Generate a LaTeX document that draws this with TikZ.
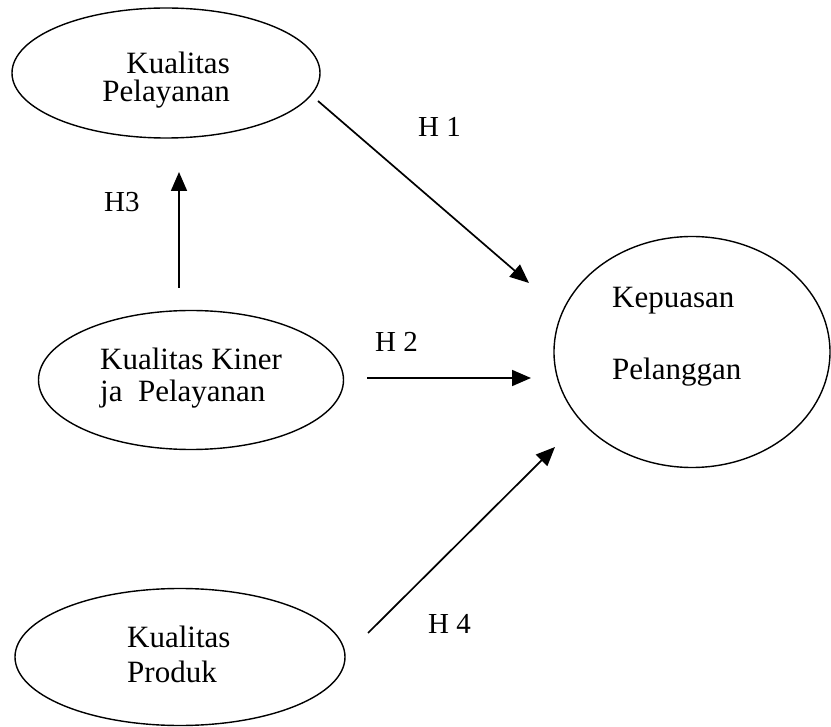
\documentclass[tikz,border=0pt]{standalone}
\usepackage{fontspec}
\setmainfont{Liberation Serif}
\usetikzlibrary{arrows.meta,shapes.geometric}
\begin{document}
\begin{tikzpicture}[x=1pt,y=-1pt,
  oval/.style={draw, ellipse, line width=1.4pt, inner sep=0pt},
  word/.style={font=\fontsize{31}{31}\selectfont, inner sep=0pt},
  hyp/.style={font=\fontsize{29}{29}\selectfont, inner sep=0pt, anchor=base west},
  link/.style={line width=1.7pt, -{Triangle[length=19pt,width=16pt]}}]
\useasboundingbox (0,0) rectangle (831,727);

% constructs
\node[oval, minimum width=308pt, minimum height=130pt] (kp) at (166,73) {};
\node[oval, minimum width=305pt, minimum height=139pt] (kk) at (191,380) {};
\node[oval, minimum width=330pt, minimum height=137pt] (pr) at (180,657) {};
\node[oval, minimum width=276pt, minimum height=231pt] (kep) at (692,352) {};

% construct names
\node[word, anchor=base east] (kp1) at (230,74) {Kualitas};
\node[word, anchor=base east] (kp2) at (230,102) {Pelayanan};
\node[word, anchor=base west] (kk1) at (100,370) {Kualitas Kiner};
\node[word, anchor=base west] (kk2) at (100,402) {ja\ \ Pelayanan};
\node[word, anchor=base west] (pr1) at (127,647) {Kualitas};
\node[word, anchor=base west] (pr2) at (127,682) {Produk};
\node[word, anchor=base west] (kep1) at (612,308) {Kepuasan};
\node[word, anchor=base west] (kep2) at (612,380) {Pelanggan};

% arrow ends
\coordinate (h1s) at (318,101);
\coordinate (h1e) at (529,283);
\coordinate (h2s) at (367,378);
\coordinate (h2e) at (531,378);
\coordinate (h3s) at (179,288);
\coordinate (h3e) at (179,172);
\coordinate (h4s) at (368,633);
\coordinate (h4e) at (555,447);

% hypotheses
\draw[link] (h1s) -- (h1e);
\draw[link] (h2s) -- (h2e);
\draw[link] (h3s) -- (h3e);
\draw[link] (h4s) -- (h4e);

\node[hyp] (lh1) at (418,137) {H 1};
\node[hyp] (lh2) at (375,352) {H 2};
\node[hyp] (lh3) at (104,212) {H3};
\node[hyp] (lh4) at (428,633) {H 4};
\end{tikzpicture}
\end{document}
